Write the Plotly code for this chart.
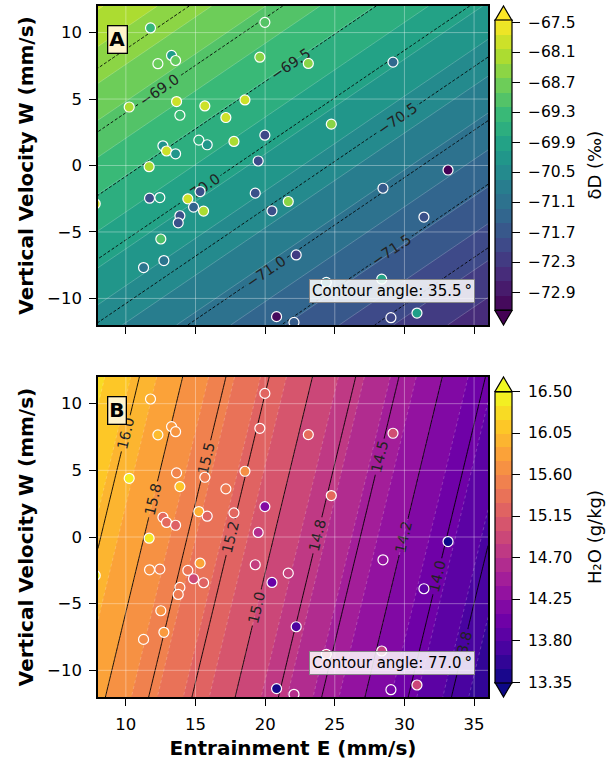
import numpy as np
import plotly.graph_objects as go
import plotly.colors as pc

# ---- observations: entrainment E and vertical velocity W (mm/s) ----
entrainment = [11.77, 19.98, 13.28, 12.30, 13.57, 19.62, 23.10, 29.18, 10.24, 13.64,
               13.88, 15.67, 18.55, 17.18, 24.75, 19.98, 15.24, 15.84, 17.76, 12.66,
               12.92, 13.57, 19.50, 11.67, 33.13, 7.80, 11.70, 12.44, 15.33, 14.45,
               14.86, 15.58, 13.88, 13.76, 19.29, 20.49, 21.66, 28.46, 31.40, 12.51,
               12.73, 11.27, 22.23, 24.39, 28.37, 20.82, 22.07, 29.03, 30.90]
vertical_velocity = [10.35, 10.77, 8.28, 7.66, 7.90, 8.15, 7.68, 7.78, 4.40, 4.81,
                     3.78, 4.48, 4.93, 3.61, 3.11, 2.28, 1.91, 1.56, 1.81, 1.48,
                     1.09, 0.88, 0.34, -0.09, -0.34, -2.88, -2.46, -2.41, -1.96, -2.51,
                     -3.13, -3.43, -3.78, -4.31, -2.08, -3.41, -2.71, -1.71, -3.88, -5.53,
                     -7.15, -7.68, -6.73, -8.80, -8.55, -11.37, -11.80, -11.45, -11.10]

# measured isotope ratio (permil) and specific humidity (g/kg) at each site
delta_d = [-69.40, -69.03, -70.06, -68.79, -68.86, -68.50, -68.50, -71.30, -68.20, -67.90,
           -69.31, -67.90, -67.90, -67.90, -68.50, -72.00, -69.61, -70.20, -68.20, -70.30,
           -67.90, -70.25, -71.90, -68.20, -73.30, -67.90, -71.80, -69.85, -71.80, -67.90,
           -71.40, -68.20, -71.80, -71.80, -71.80, -71.80, -68.50, -71.60, -71.80, -69.10,
           -71.00, -71.00, -72.20, -70.75, -69.90, -73.10, -71.55, -72.03, -70.00]
h2o = [15.905, 15.25, 15.745, 16.03, 15.71, 15.23, 15.33, 15.00, 16.40, 15.55,
       16.10, 15.48, 15.65, 15.46, 15.30, 14.20, 15.93, 15.24, 15.26, 15.30,
       15.30, 15.20, 14.64, 16.37, 13.35, 16.40, 15.67, 15.52, 15.84, 15.40,
       14.96, 15.22, 15.47, 15.47, 14.83, 13.98, 14.87, 14.34, 13.90, 15.70,
       15.75, 15.61, 13.76, 14.97, 14.82, 13.40, 14.66, 14.11, 14.93]

# fitted planes: value = intercept + slope_e * E + slope_w * W
dd_intercept, dd_slope_e, dd_slope_w = -68.67, -0.0745, 0.1045
q_intercept, q_slope_e, q_slope_w = 16.66, -0.0805, 0.0186

# colour ranges / band widths
dd_range = [-73.26, -67.46]
dd_band = 0.29
q_range = [13.35, 16.50]
q_band = 0.15

# labelled isolines
dd_lines = dict(start=-72.0, end=-68.5, size=0.5)

# axis / colourbar ticks
x_ticks = [10, 15, 20, 25, 30, 35]
y_ticks = [-10, -5, 0, 5, 10]
dd_ticks = [-67.5, -68.1, -68.7, -69.3, -69.9, -70.5, -71.1, -71.7, -72.3, -72.9]
q_ticks = [16.50, 16.05, 15.60, 15.15, 14.70, 14.25, 13.80, 13.35]

E_RANGE = [8, 36]
W_RANGE = [-12, 12]

# ---- page geometry (pixels) ----
FIG_W, FIG_H = 606, 764
M_L, M_R, M_T, M_B = 98, 118, 6, 67
PLOT_W = FIG_W - M_L - M_R
PLOT_H = FIG_H - M_T - M_B
A_TOP, A_BOT = 6, 325
B_TOP, B_BOT = 377, 697
CB_LEFT, CB_THICK = 495, 17
CB_TICKLEN = 8
CB_LABEL_X = 527
CB_TITLE_X = 594
EXT = 14.5  # length of the colour-bar end triangles


def pxx(px):
    return (px - M_L) / PLOT_W


def pxy(py):
    return (FIG_H - M_B - py) / PLOT_H


FONT = "DejaVu Sans"

e_grid = np.linspace(E_RANGE[0], E_RANGE[1], 141)
w_grid = np.linspace(W_RANGE[0], W_RANGE[1], 121)
EE, WW = np.meshgrid(e_grid, w_grid)
dd_surface = dd_intercept + dd_slope_e * EE + dd_slope_w * WW
q_surface = q_intercept + q_slope_e * EE + q_slope_w * WW

angle_dd = np.degrees(np.arctan2(-dd_slope_e, dd_slope_w))
angle_q = np.degrees(np.arctan2(-q_slope_e, q_slope_w))

fig = go.Figure()


def colorbar(top_px, bot_px, ticks):
    return dict(
        x=pxx(CB_LEFT), xanchor="left", xpad=0,
        y=pxy((top_px + bot_px) / 2), yanchor="middle", ypad=0,
        len=bot_px - top_px, lenmode="pixels", thickness=CB_THICK,
        outlinecolor="black", outlinewidth=1.2,
        tickvals=ticks, ticks="outside", ticklen=CB_TICKLEN,
        tickwidth=1.2, tickcolor="black", showticklabels=False,
    )


def colorbar_labels(top_px, bot_px, zr, ticks, decimals):
    # tick labels placed along the bar with the bar's own linear scale
    for v in ticks:
        py = top_px + (zr[1] - v) / (zr[1] - zr[0]) * (bot_px - top_px)
        fig.add_annotation(text=f"{v:.{decimals}f}".replace("-", "\u2212"),
                           xref="paper", yref="paper", x=pxx(CB_LABEL_X), y=pxy(py),
                           xanchor="left", yanchor="middle", showarrow=False,
                           borderpad=0, font=dict(family=FONT, size=15.5, color="black"))


def add_surface(xa, ya, surface, zr, band, cscale, band_dash, cb):
    # filled bands
    fig.add_trace(go.Contour(
        x=e_grid, y=w_grid, z=surface, xaxis=xa, yaxis=ya,
        colorscale=cscale, zmin=zr[0], zmax=zr[1], autocontour=False,
        contours=dict(start=zr[0], end=zr[1], size=band, coloring="fill", showlines=False),
        line=dict(width=0), colorbar=cb, hoverinfo="skip"))
    # faint band boundaries
    fig.add_trace(go.Contour(
        x=e_grid, y=w_grid, z=surface, xaxis=xa, yaxis=ya, showscale=False,
        autocontour=False,
        contours=dict(start=zr[0], end=zr[1], size=band, coloring="none"),
        line=dict(color="rgba(255,255,255,0.35)", width=0.6, dash=band_dash),
        hoverinfo="skip"))
    # grid
    gx, gy = [], []
    for t in x_ticks:
        gx += [t, t, None]
        gy += [W_RANGE[0], W_RANGE[1], None]
    for t in y_ticks:
        gx += [E_RANGE[0], E_RANGE[1], None]
        gy += [t, t, None]
    fig.add_trace(go.Scatter(x=gx, y=gy, xaxis=xa, yaxis=ya, mode="lines",
                             line=dict(color="rgba(255,255,255,0.35)", width=1),
                             hoverinfo="skip", showlegend=False))


def add_points(xa, ya, values, zr, cscale):
    fig.add_trace(go.Scatter(
        x=entrainment, y=vertical_velocity, xaxis=xa, yaxis=ya, mode="markers",
        marker=dict(size=10, color=values, colorscale=cscale, cmin=zr[0], cmax=zr[1],
                    showscale=False, line=dict(color="white", width=1.2)),
        showlegend=False))


def add_isolines(xa, ya, surface, levels, dash, width):
    fig.add_trace(go.Contour(
        x=e_grid, y=w_grid, z=surface, xaxis=xa, yaxis=ya, showscale=False,
        autocontour=False,
        contours=dict(start=levels["start"], end=levels["end"], size=levels["size"],
                      coloring="none", showlabels=True,
                      labelfont=dict(family=FONT, size=14.5, color="#222222"),
                      labelformat=".1f"),
        line=dict(color="black", width=width, dash=dash), hoverinfo="skip"))


# panel A: delta-D
add_surface("x", "y", dd_surface, dd_range, dd_band, "Viridis", "solid",
            colorbar(A_TOP + EXT, A_BOT - EXT, dd_ticks))
add_isolines("x", "y", dd_surface, dd_lines, "3px,2px", 0.9)
add_points("x", "y", delta_d, dd_range, "Viridis")
colorbar_labels(A_TOP + EXT, A_BOT - EXT, dd_range, dd_ticks, 1)

# panel B: humidity
add_surface("x2", "y2", q_surface, q_range, q_band, "Plasma", "3px,3px",
            colorbar(B_TOP + EXT, B_BOT - EXT, q_ticks))
# isolines every 0.25 g/kg, split so that quarter values print as 15.2 / 15.8
add_isolines("x2", "y2", q_surface, dict(start=14.0, end=16.0, size=0.5), "solid", 0.9)
add_isolines("x2", "y2", q_surface, dict(start=13.75, end=15.75, size=1.0), "solid", 0.9)
add_isolines("x2", "y2", q_surface, dict(start=14.2499, end=15.2499, size=1.0), "solid", 0.9)
add_points("x2", "y2", h2o, q_range, "Plasma")
colorbar_labels(B_TOP + EXT, B_BOT - EXT, q_range, q_ticks, 2)

axis_common = dict(showline=True, linecolor="black", linewidth=1.5, mirror=True,
                   ticks="outside", ticklen=7, tickwidth=1.3, tickcolor="black",
                   showgrid=False, zeroline=False, ticklabelstandoff=4,
                   tickfont=dict(family=FONT, size=16.5, color="black"))
title_font = dict(family=FONT, size=20, color="black")

fig.update_layout(
    width=FIG_W, height=FIG_H,
    margin=dict(l=M_L, r=M_R, t=M_T, b=M_B, autoexpand=False),
    paper_bgcolor="white", plot_bgcolor="white",
    showlegend=False,
    xaxis=dict(domain=[0, 1], anchor="y", range=E_RANGE, tickvals=x_ticks,
               showticklabels=False, matches="x2", **axis_common),
    yaxis=dict(domain=[pxy(A_BOT), pxy(A_TOP)], anchor="x", range=W_RANGE, tickvals=y_ticks,
               title=dict(text="<b>Vertical Velocity W (mm/s)</b>", standoff=8, font=title_font),
               **axis_common),
    xaxis2=dict(domain=[0, 1], anchor="y2", range=E_RANGE, tickvals=x_ticks,
                title=dict(text="<b>Entrainment E (mm/s)</b>", standoff=8, font=title_font),
                **axis_common),
    yaxis2=dict(domain=[pxy(B_BOT), pxy(B_TOP)], anchor="x2", range=W_RANGE, tickvals=y_ticks,
                title=dict(text="<b>Vertical Velocity W (mm/s)</b>", standoff=8, font=title_font),
                **axis_common),
)


# colour-bar extension triangles
def triangles(top_px, bot_px, top_color, bot_color):
    x0, x1 = pxx(CB_LEFT), pxx(CB_LEFT + CB_THICK)
    xm = (x0 + x1) / 2
    shapes = []
    for base, tip, col in ((top_px + EXT, top_px, top_color), (bot_px - EXT, bot_px, bot_color)):
        shapes.append(dict(type="path", xref="paper", yref="paper",
                           path=f"M {x0},{pxy(base)} L {x1},{pxy(base)} L {xm},{pxy(tip)} Z",
                           fillcolor=col, line=dict(color="black", width=1.2)))
    return shapes


viridis = pc.sequential.Viridis
plasma = pc.sequential.Plasma
fig.update_layout(shapes=triangles(A_TOP, A_BOT, viridis[-1], viridis[0])
                  + triangles(B_TOP, B_BOT, plasma[-1], plasma[0]))

# colour-bar titles
for title, top_px, bot_px in (("δD (‰)", A_TOP, A_BOT), ("H₂O (g/kg)", B_TOP, B_BOT)):
    fig.add_annotation(text=title, xref="paper", yref="paper",
                       x=pxx(CB_TITLE_X), y=pxy((top_px + bot_px) / 2),
                       xanchor="center", yanchor="middle", textangle=-90, showarrow=False,
                       borderpad=0, font=dict(family=FONT, size=18, color="black"))

# panel letters and angle notes
for letter, xref, yref in (("A", "x domain", "y domain"), ("B", "x2 domain", "y2 domain")):
    fig.add_annotation(text=f"<b>{letter}</b>", xref=xref, yref=yref, x=0.022, y=0.94,
                       xanchor="left", yanchor="top", showarrow=False,
                       font=dict(family=FONT, size=20, color="black"),
                       bgcolor="#fff3cc", bordercolor="black", borderwidth=1.3, borderpad=1)

for ang, xref, yref in ((angle_dd, "x domain", "y domain"), (angle_q, "x2 domain", "y2 domain")):
    fig.add_annotation(text=f"Contour angle: {ang:.1f}\u2009°", xref=xref, yref=yref,
                       x=0.967, y=0.07, xanchor="right", yanchor="bottom", showarrow=False,
                       font=dict(family=FONT, size=15, color="black"),
                       bgcolor="rgba(255,255,255,0.85)", bordercolor="#888888",
                       borderwidth=1, borderpad=2)

fig.write_html("out.html")
